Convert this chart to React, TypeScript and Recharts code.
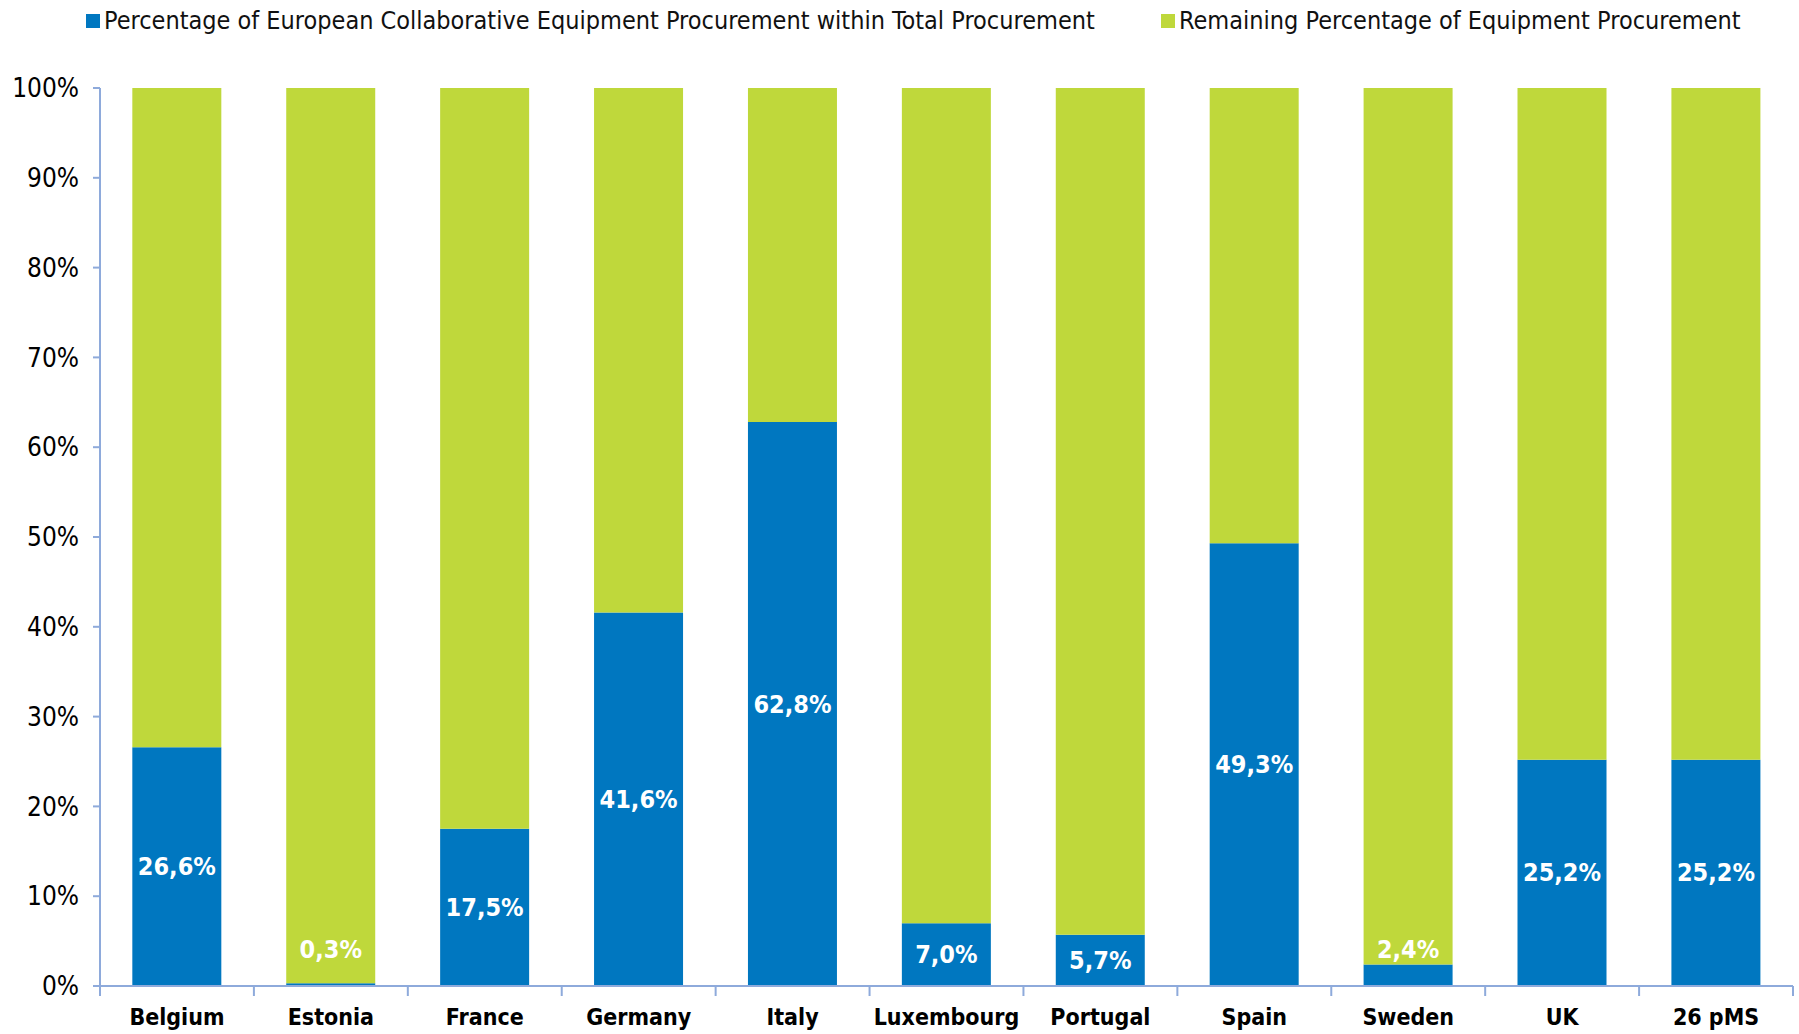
import React from 'react';
import { BarChart, Bar, XAxis, YAxis, Legend, LabelList } from 'recharts';

const categories = ['Belgium', 'Estonia', 'France', 'Germany', 'Italy', 'Luxembourg', 'Portugal', 'Spain', 'Sweden', 'UK', '26 pMS'];
const collaborative = [26.6, 0.3, 17.5, 41.6, 62.8, 7.0, 5.7, 49.3, 2.4, 25.2, 25.2];
const remaining = [73.4, 99.7, 82.5, 58.4, 37.2, 93.0, 94.3, 50.7, 97.6, 74.8, 74.8];
const yTicks = [0, 10, 20, 30, 40, 50, 60, 70, 80, 90, 100];

const seriesNames = {
  collab: 'Percentage of European Collaborative Equipment Procurement within Total Procurement',
  rest: 'Remaining Percentage of Equipment Procurement',
};

const BLUE = '#0077C0';
const GREEN = '#BFD83B';
const AXIS = '#8EAADB';
const FONT = '"Liberation Sans Narrow", "DejaVu Sans Condensed", "Liberation Sans", sans-serif';

const CHART_W = 1799;
const MARGIN_L = 100;
const MARGIN_R = 6;
const STEP = (CHART_W - MARGIN_L - MARGIN_R) / categories.length;

const data = categories.map((c, i) => ({ name: c, collab: collaborative[i], rest: remaining[i] }));

const fmt = (v: number) => v.toFixed(1).replace('.', ',') + '%';

const ValueLabel = (props: any) => {
  const { x, y, width, height, value } = props;
  const cx = x + width / 2;
  let cy = y + height / 2;
  if (value < 3) cy = y + height - 37;
  return (
    <text x={cx} y={cy} textAnchor="middle" dominantBaseline="central" fill="#fff" fontWeight="bold" fontSize={25} fontFamily={FONT}>
      {fmt(value)}
    </text>
  );
};

const CategoryTick = (props: any) => {
  const { x, y, payload, index } = props;
  const isLast = index === categories.length - 1;
  return (
    <g>
      <line x1={x - STEP / 2} x2={x - STEP / 2} y1={y} y2={y + 10} stroke={AXIS} strokeWidth={2} />
      {isLast && <line x1={x + STEP / 2} x2={x + STEP / 2} y1={y} y2={y + 10} stroke={AXIS} strokeWidth={2} />}
      <text x={x} y={y + 31} textAnchor="middle" dominantBaseline="central" fill="#000" fontSize={23} fontWeight="bold" fontFamily={FONT}>
        {payload.value}
      </text>
    </g>
  );
};

const LegendContent = () => (
  <div style={{ display: 'flex', fontFamily: FONT, fontSize: 25, color: '#111', whiteSpace: 'nowrap' }}>
    <div style={{ position: 'absolute', left: 86, top: 0, display: 'flex', alignItems: 'center' }}>
      <span style={{ width: 14, height: 14, background: BLUE, display: 'inline-block', marginRight: 4 }} />
      <span>{seriesNames.collab}</span>
    </div>
    <div style={{ position: 'absolute', left: 1161, top: 0, display: 'flex', alignItems: 'center' }}>
      <span style={{ width: 14, height: 14, background: GREEN, display: 'inline-block', marginRight: 4 }} />
      <span>{seriesNames.rest}</span>
    </div>
  </div>
);

export default function App() {
  return (
    <div style={{ position: 'absolute', left: 0, top: 0, background: '#fff' }}>
      <BarChart width={CHART_W} height={1034} data={data} margin={{ top: 58, right: MARGIN_R, bottom: 0, left: 0 }} barCategoryGap="21%">
        <Legend verticalAlign="top" content={<LegendContent />} wrapperStyle={{ top: 6, left: 0, width: 1799, height: 30 }} />
        <XAxis dataKey="name" height={48} axisLine={{ stroke: AXIS, strokeWidth: 2 }} tickLine={false} tickSize={0} tickMargin={0} interval={0} tick={<CategoryTick />} />
        <YAxis width={MARGIN_L} domain={[0, 100]} ticks={yTicks} tickFormatter={(v: number) => v + '%'} axisLine={{ stroke: AXIS, strokeWidth: 2 }} tickLine={{ stroke: AXIS, strokeWidth: 2 }} tickSize={7} tickMargin={14} tick={{ fill: '#000', fontSize: 26, fontFamily: FONT }} interval={0} />
        <Bar dataKey="collab" stackId="a" fill={BLUE} isAnimationActive={false}>
          <LabelList dataKey="collab" content={<ValueLabel />} />
        </Bar>
        <Bar dataKey="rest" stackId="a" fill={GREEN} isAnimationActive={false} />
      </BarChart>
    </div>
  );
}
